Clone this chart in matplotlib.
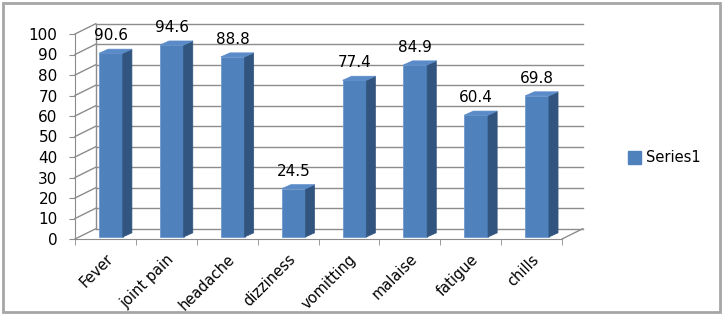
import numpy as np
import matplotlib.pyplot as plt
from matplotlib.patches import Polygon, Rectangle, Patch

categories = ["Fever", "joint pain", "headache", "dizziness", "vomitting", "malaise", "fatigue", "chills"]
values = [90.6, 94.6, 88.8, 24.5, 77.4, 84.9, 60.4, 69.8]
yticks = [0, 10, 20, 30, 40, 50, 60, 70, 80, 90, 100]
series_name = "Series1"

front = "#4F81BD"
side = "#32557F"
top = "#5A8BC8"
grid = "#8C8C8C"

# depth of the box (data units) and of each bar
ddx, ddy = 0.34, 5.0
bdx, bdy = 0.15, 2.0
x_shift, bw, base = 0.09, 0.39, 1.0

fig = plt.figure(figsize=(7.24, 3.15), dpi=100)
fig.patch.set_facecolor("white")
fig.patches.append(Rectangle((0.004, 0.008), 0.99, 0.984, transform=fig.transFigure,
                             fill=False, edgecolor="#A6A6A6", lw=2))

ax = fig.add_axes([75/724, 76/315, 487/724, 205/315])
ax.set_xlim(-0.5, 7.5)
ax.set_ylim(0, 100)
n = len(categories)

# back wall and left wall grid
for v in yticks:
    ax.plot([-0.5, -0.5+ddx], [v, v+ddy], color=grid, lw=1, clip_on=False, zorder=1)
    ax.plot([-0.5+ddx, n-0.5+ddx], [v+ddy, v+ddy], color=grid, lw=1, clip_on=False, zorder=1)
ax.plot([-0.5+ddx, -0.5+ddx], [ddy, 100+ddy], color=grid, lw=1, clip_on=False, zorder=1)
# floor right edge
ax.plot([n-0.5, n-0.5+ddx], [0, ddy], color=grid, lw=1, clip_on=False, zorder=1)

# bars
x = np.arange(n)
ax.bar(x + x_shift, np.array(values) - base, bottom=base, width=bw, color=front,
       edgecolor="#6E98CC", lw=0.6, zorder=3, clip_on=False)
for xi, v in zip(x, values):
    x0 = xi + x_shift - bw/2
    x1 = xi + x_shift + bw/2
    ax.add_patch(Polygon([(x1, base), (x1+bdx, base+bdy), (x1+bdx, v+bdy), (x1, v)],
                         closed=True, facecolor=side, edgecolor=side, lw=0.5, zorder=3, clip_on=False))
    ax.add_patch(Polygon([(x0, v), (x1, v), (x1+bdx, v+bdy), (x0+bdx, v+bdy)],
                         closed=True, facecolor=top, edgecolor=top, lw=0.5, zorder=3, clip_on=False))
    ax.text(xi + x_shift, v + 8.5, f"{v:g}", ha="center", va="center", fontsize=11, zorder=4)

# axes styling
for s in ["top", "right"]:
    ax.spines[s].set_visible(False)
ax.spines["left"].set_color(grid)
ax.spines["bottom"].set_color(grid)
ax.set_yticks(yticks)
ax.tick_params(axis="y", direction="out", length=4.5, color=grid, labelsize=11, pad=8)
ax.set_xticks(x)
ax.set_xticklabels(categories, rotation=45, ha="right", rotation_mode="anchor", fontsize=10.5)
ax.tick_params(axis="x", which="major", length=0, pad=9)
ax.set_xticks(np.arange(n + 1) - 0.5, minor=True)
ax.tick_params(axis="x", which="minor", direction="out", length=4, color=grid)
ax.patch.set_visible(False)

fig.legend(handles=[Patch(facecolor=front, edgecolor=front)], labels=[series_name],
           loc="center left", bbox_to_anchor=(615/724, 1 - 158/315), frameon=False,
           fontsize=10.5, handlelength=0.9, handleheight=0.9, handletextpad=0.3)

fig.savefig("out.png", dpi=100)
